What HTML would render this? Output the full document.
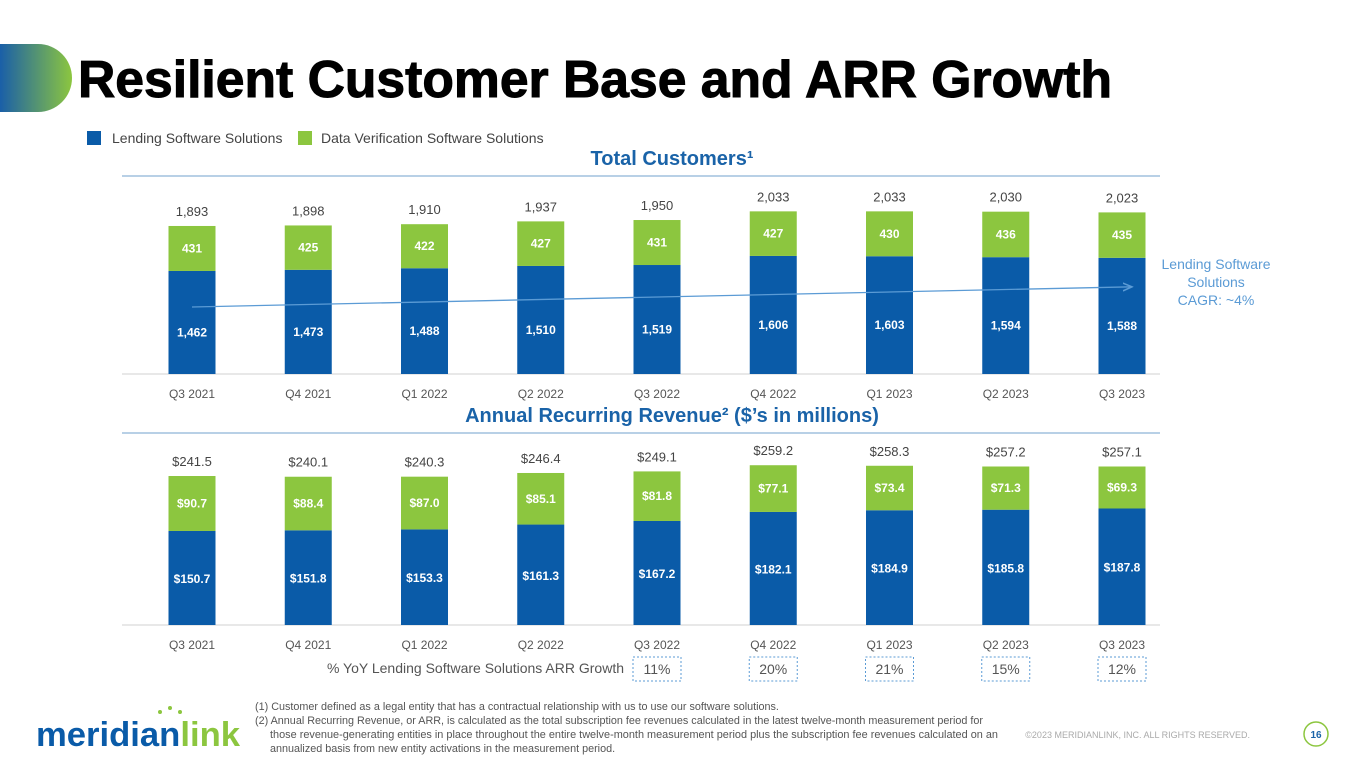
<!DOCTYPE html>
<html><head><meta charset="utf-8"><style>
html,body{margin:0;padding:0;background:#fff;}
svg{display:block;font-family:"Liberation Sans",sans-serif;}
</style></head><body>
<svg id="s" width="1365" height="768" viewBox="0 0 1365 768" xmlns="http://www.w3.org/2000/svg">
<defs>
<linearGradient id="tab" x1="0" x2="1" y1="0" y2="0"><stop offset="0" stop-color="#1a5fa8"/><stop offset="1" stop-color="#8cc63f"/></linearGradient>
<marker id="arr" markerWidth="8" markerHeight="8" refX="7" refY="4" orient="auto"><path d="M0,1 L7,4 L0,7" fill="none" stroke="#5b9bd5" stroke-width="1.2"/></marker>
</defs>
<path d="M0,44 H38 A34,34 0 0 1 38,112 H0 Z" fill="url(#tab)"/>
<text x="78" y="97" font-size="52" font-weight="bold" fill="#000" stroke="#000" stroke-width="1" textLength="1034" lengthAdjust="spacingAndGlyphs">Resilient Customer Base and ARR Growth</text>
<g>
<rect x="87" y="131" width="14" height="14" fill="#0a5ba8"/>
<text x="112" y="143" font-size="14" fill="#444">Lending Software Solutions</text>
<rect x="298" y="131" width="14" height="14" fill="#8cc63f"/>
<text x="321" y="143" font-size="14" fill="#444">Data Verification Software Solutions</text>
</g>
<text x="672" y="165" font-size="20" font-weight="bold" fill="#1a63a8" text-anchor="middle">Total Customers¹</text>
<line x1="122" y1="176" x2="1160" y2="176" stroke="#8eb4d8" stroke-width="1.2"/>
<line x1="122" y1="374" x2="1160" y2="374" stroke="#d0d0d0" stroke-width="1"/>
<text x="672" y="422" font-size="20" font-weight="bold" fill="#1a63a8" text-anchor="middle">Annual Recurring Revenue² ($’s in millions)</text>
<line x1="122" y1="433" x2="1160" y2="433" stroke="#8eb4d8" stroke-width="1.2"/>
<line x1="122" y1="625" x2="1160" y2="625" stroke="#d0d0d0" stroke-width="1"/>
<text x="1216" y="269" font-size="14" fill="#5b9bd5" text-anchor="middle"><tspan x="1216">Lending Software</tspan><tspan x="1216" dy="18">Solutions</tspan><tspan x="1216" dy="18">CAGR: ~4%</tspan></text>
<text x="624" y="673" font-size="14" fill="#555" text-anchor="end">% YoY Lending Software Solutions ARR Growth</text>
<g id="chart1"></g>
<g id="chart2"></g>
<g id="yoy"></g>
<text x="36" y="746" font-size="34" font-weight="bold" fill="#0a5ba8" textLength="204" lengthAdjust="spacingAndGlyphs">meridian<tspan fill="#8cc63f">link</tspan></text>
<g fill="#8cc63f"><circle cx="160" cy="712" r="2"/><circle cx="170" cy="708" r="2"/><circle cx="180" cy="712" r="2"/></g>
<text x="255" y="710" font-size="10.8" fill="#555">(1) Customer defined as a legal entity that has a contractual relationship with us to use our software solutions.</text>
<text x="255" y="724" font-size="10.8" fill="#555"><tspan x="255">(2) Annual Recurring Revenue, or ARR, is calculated as the total subscription fee revenues calculated in the latest twelve-month measurement period for</tspan><tspan x="270" dy="14" textLength="728" lengthAdjust="spacingAndGlyphs">those revenue-generating entities in place throughout the entire twelve-month measurement period plus the subscription fee revenues calculated on an</tspan><tspan x="270" dy="14">annualized basis from new entity activations in the measurement period.</tspan></text>
<text x="1250" y="738" font-size="9" fill="#aaa" text-anchor="end">©2023 MERIDIANLINK, INC. ALL RIGHTS RESERVED.</text>
<circle cx="1316" cy="734" r="12" fill="#fff" stroke="#8cc63f" stroke-width="1.5"/>
<text x="1316" y="738" font-size="10" font-weight="bold" fill="#1a63a8" text-anchor="middle">16</text>
</svg>
<script>
const categories=["Q3 2021","Q4 2021","Q1 2022","Q2 2022","Q3 2022","Q4 2022","Q1 2023","Q2 2023","Q3 2023"];
const custLending=[1462,1473,1488,1510,1519,1606,1603,1594,1588];
const custDV=[431,425,422,427,431,427,430,436,435];
const custTotalLabels=["1,893","1,898","1,910","1,937","1,950","2,033","2,033","2,030","2,023"];
const custLendingLabels=["1,462","1,473","1,488","1,510","1,519","1,606","1,603","1,594","1,588"];
const arrLending=[150.7,151.8,153.3,161.3,167.2,182.1,184.9,185.8,187.8];
const arrDV=[90.7,88.4,87.0,85.1,81.8,77.1,73.4,71.3,69.3];
const arrTotals=[241.5,240.1,240.3,246.4,249.1,259.2,258.3,257.2,257.1];
const yoyCats=["Q3 2022","Q4 2022","Q1 2023","Q2 2023","Q3 2023"];
const yoyValues=["11%","20%","21%","15%","12%"];

const NS="http://www.w3.org/2000/svg";
function mk(parent,tag,attrs,txt){const e=document.createElementNS(NS,tag);for(const k in attrs)e.setAttribute(k,attrs[k]);if(txt!==undefined)e.textContent=txt;parent.appendChild(e);return e;}
function xPos(i){return 192+i*(1122-192)/(categories.length-1);}
const BW=47;
const y1=v=>423.6-v*0.1044;
const y2=v=>622.3-v*0.606;
const c1=document.getElementById('chart1'),c2=document.getElementById('chart2'),yy=document.getElementById('yoy');
categories.forEach((c,i)=>{
  const x=xPos(i);
  const tL=y1(custLending[i]), tT=y1(custLending[i]+custDV[i]);
  let r=mk(c1,'rect',{x:x-BW/2,y:tL,width:BW,height:374-tL,fill:'#0a5ba8'});
  
  
  r=mk(c1,'rect',{x:x-BW/2,y:tT,width:BW,height:tL-tT,fill:'#8cc63f'});
  
  
  let t=mk(c1,'text',{x:x,y:(tL+374)/2+14,'font-size':12,'font-weight':'bold',fill:'#fff','text-anchor':'middle'},custLendingLabels[i]);
  
  
  t=mk(c1,'text',{x:x,y:(tT+tL)/2+4,'font-size':12,'font-weight':'bold',fill:'#fff','text-anchor':'middle'},String(custDV[i]));
  
  
  t=mk(c1,'text',{x:x,y:tT-10,'font-size':13,fill:'#444','text-anchor':'middle'},custTotalLabels[i]);
  
  
  t=mk(c1,'text',{x:x,y:398,'font-size':12,fill:'#555','text-anchor':'middle'},c);
  
  
  const aL=y2(arrLending[i]), aT=y2(arrLending[i]+arrDV[i]);
  r=mk(c2,'rect',{x:x-BW/2,y:aL,width:BW,height:625-aL,fill:'#0a5ba8'});
  
  
  r=mk(c2,'rect',{x:x-BW/2,y:aT,width:BW,height:aL-aT,fill:'#8cc63f'});
  
  
  t=mk(c2,'text',{x:x,y:(aL+625)/2+5,'font-size':12,'font-weight':'bold',fill:'#fff','text-anchor':'middle'},'$'+arrLending[i].toFixed(1));
  
  
  t=mk(c2,'text',{x:x,y:(aT+aL)/2+4,'font-size':12,'font-weight':'bold',fill:'#fff','text-anchor':'middle'},'$'+arrDV[i].toFixed(1));
  
  
  t=mk(c2,'text',{x:x,y:aT-10,'font-size':13,fill:'#444','text-anchor':'middle'},'$'+arrTotals[i].toFixed(1));
  
  
  t=mk(c2,'text',{x:x,y:649,'font-size':12,fill:'#555','text-anchor':'middle'},c);
  
  
});
const ln=mk(c1,'line',{x1:xPos(0),y1:y1(custLending[0])+36,x2:xPos(categories.length-1)+10,y2:y1(custLending[categories.length-1])+29,stroke:'#5b9bd5','stroke-width':1.3,'marker-end':'url(#arr)'});


yoyCats.forEach((c,j)=>{
  const x=xPos(categories.indexOf(c));
  const b=mk(yy,'rect',{x:x-24,y:657,width:48,height:24,fill:'none',stroke:'#5b9bd5','stroke-width':1,'stroke-dasharray':'2,2'});
  
  
  const t=mk(yy,'text',{x:x,y:674,'font-size':14,fill:'#555','text-anchor':'middle'},yoyValues[j]);
  
  
});
</script>
</body></html>
